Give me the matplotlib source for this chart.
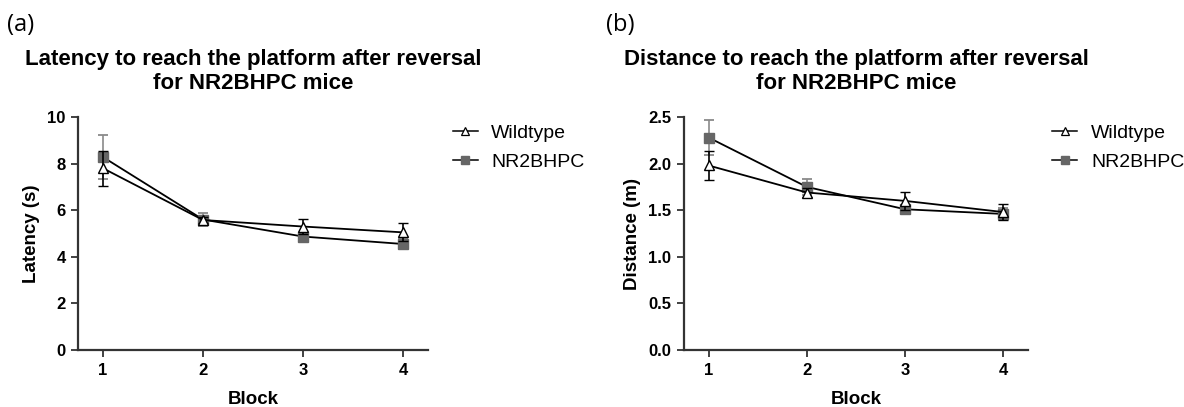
import matplotlib
matplotlib.use("Agg")
import matplotlib.pyplot as plt
from matplotlib.lines import Line2D

plt.rcParams['font.family'] = ['Liberation Sans', 'DejaVu Sans']

blocks = [1, 2, 3, 4]
block_labels = ["1", "2", "3", "4"]

# Latency (s)
lat_wt = [7.80, 5.58, 5.30, 5.05]
lat_wt_sem = [0.75, 0.12, 0.33, 0.38]
lat_nr = [8.28, 5.60, 4.87, 4.55]
lat_nr_sem = [0.96, 0.26, 0.15, 0.22]

# Distance (m)
dist_wt = [1.98, 1.69, 1.60, 1.48]
dist_wt_sem = [0.155, 0.05, 0.095, 0.09]
dist_nr = [2.28, 1.75, 1.51, 1.46]
dist_nr_sem = [0.185, 0.085, 0.03, 0.06]

fig = plt.figure(figsize=(11.84, 4.07), dpi=100)

GREY = "#666666"
ERR_GREY = "#8a8a8a"
AX_COL = "#333333"


def draw_panel(ax, wt, wt_e, nr, nr_e, ylim, yticks, yticklabels, ylabel, title):
    ax.errorbar(blocks, nr, yerr=nr_e, color="black", ecolor=ERR_GREY,
                elinewidth=1.2, capsize=3.3, capthick=1.3, lw=1.3,
                marker="s", ms=7, mfc=GREY, mec=GREY, zorder=3)
    ax.errorbar(blocks, wt, yerr=wt_e, color="black", ecolor="black",
                elinewidth=1.2, capsize=3.3, capthick=1.3, lw=1.3,
                marker="^", ms=6.5, mfc="white", mec="black", mew=1.0,
                zorder=4)
    ax.set_xlim(0.75, 4.25)
    ax.set_ylim(*ylim)
    ax.set_xticks(blocks)
    ax.set_xticklabels(block_labels)
    ax.set_yticks(yticks)
    ax.set_yticklabels(yticklabels)
    for s in ("top", "right"):
        ax.spines[s].set_visible(False)
    for s in ("left", "bottom"):
        ax.spines[s].set_color(AX_COL)
        ax.spines[s].set_linewidth(1.6)
    ax.tick_params(direction="out", length=5, width=1.3, color=AX_COL,
                   labelsize=12, pad=4)
    for lab in ax.get_xticklabels() + ax.get_yticklabels():
        lab.set_fontweight("bold")
    ax.set_xlabel("Block", fontsize=13.5, fontweight="bold", labelpad=9.5)
    ax.set_ylabel(ylabel, fontsize=13.5, fontweight="bold", labelpad=5)
    ax.set_title(title, fontsize=16, fontweight="bold", pad=20.5,
                 linespacing=1.15)
    handles = [
        Line2D([], [], color="black", lw=1.1, marker="^", ms=5.5,
               mfc="white", mec="black", mew=0.9),
        Line2D([], [], color="black", lw=1.1, marker="s", ms=6,
               mfc=GREY, mec=GREY),
    ]
    ax.legend(handles, ["Wildtype", "NR2BHPC"], loc="upper left",
              bbox_to_anchor=(1.07, 0.97), frameon=False,
              fontsize=14, handlelength=1.3, handletextpad=0.7,
              labelspacing=0.6, borderaxespad=0, borderpad=0)


ax1 = fig.add_axes([0.0659, 0.14, 0.2956, 0.5725])
draw_panel(ax1, lat_wt, lat_wt_sem, lat_nr, lat_nr_sem, (0, 10),
           [0, 2, 4, 6, 8, 10], ["0", "2", "4", "6", "8", "10"],
           "Latency (s)",
           "Latency to reach the platform after reversal\nfor NR2BHPC mice")

ax2 = fig.add_axes([0.5777, 0.14, 0.2905, 0.5725])
draw_panel(ax2, dist_wt, dist_wt_sem, dist_nr, dist_nr_sem, (0, 2.5),
           [0, 0.5, 1.0, 1.5, 2.0, 2.5],
           ["0.0", "0.5", "1.0", "1.5", "2.0", "2.5"],
           "Distance (m)",
           "Distance to reach the platform after reversal\nfor NR2BHPC mice")

fig.text(0.006, 0.925, "(a)", fontsize=17, family=["Open Sans", "DejaVu Sans"])
fig.text(0.512, 0.925, "(b)", fontsize=17, family=["Open Sans", "DejaVu Sans"])

fig.savefig("out.png", dpi=100)
